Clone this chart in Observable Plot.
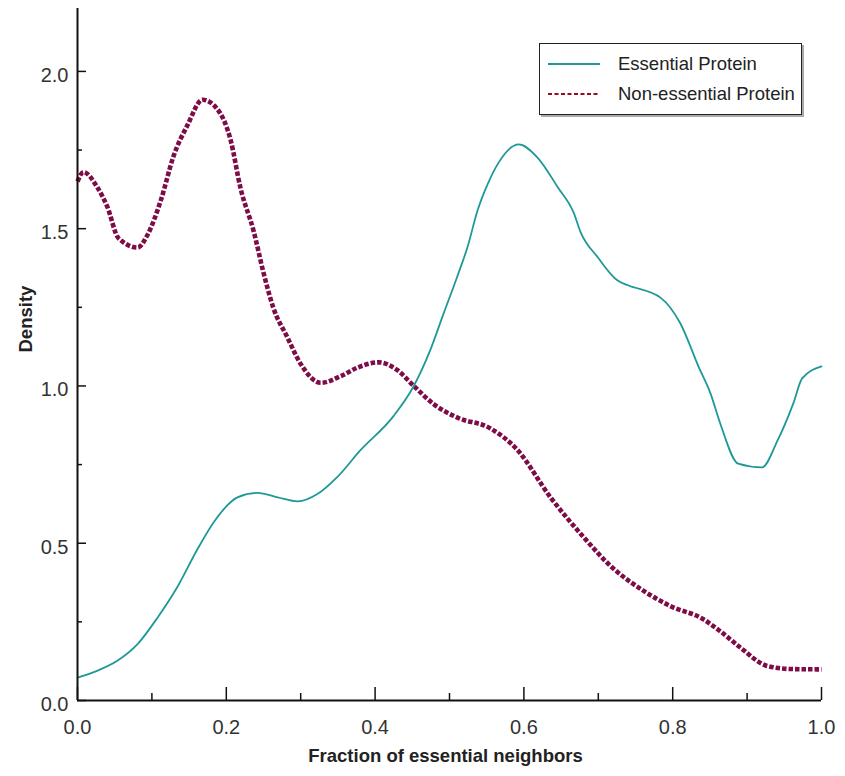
<!DOCTYPE html>
<html>
<head>
<meta charset="utf-8">
<script src="https://cdn.jsdelivr.net/npm/d3@7"></script>
<script src="https://cdn.jsdelivr.net/npm/@observablehq/plot@0.6"></script>
<style>
  html, body { margin: 0; padding: 0; background: #fff; }
  #wrap { position: relative; width: 845px; height: 776px; font-family: "Liberation Sans", Arial, sans-serif; }
  #legend { position: absolute; left: 539px; top: 43px; width: 261px; height: 70px; border: 1.5px solid #222; background: #fff; box-shadow: 2px 2px 0 #aaa; }
  #legend .row { position: absolute; left: 0; height: 20px; display: flex; align-items: center; font-size: 18.5px; color: #222; }
  #legend svg { margin-left: 8px; margin-right: 18px; }
</style>
</head>
<body>
<div id="wrap">
  <div id="chart"></div>
  <div id="legend"></div>
</div>
<script>
// Essential protein density (teal)
const essX = [0, 0.027, 0.054, 0.081, 0.108, 0.134, 0.161, 0.184, 0.215, 0.242, 0.269, 0.296, 0.323, 0.349, 0.38, 0.425, 0.452, 0.474, 0.492, 0.51, 0.524, 0.538, 0.551, 0.566, 0.593, 0.618, 0.646, 0.667, 0.676, 0.699, 0.726, 0.74, 0.784, 0.81, 0.835, 0.851, 0.864, 0.888, 0.92, 0.941, 0.962, 0.974, 1.0];
const essY = [0.073, 0.095, 0.127, 0.18, 0.265, 0.36, 0.48, 0.57, 0.646, 0.66, 0.646, 0.633, 0.657, 0.71, 0.795, 0.905, 1.0, 1.113, 1.23, 1.345, 1.44, 1.56, 1.64, 1.71, 1.768, 1.727, 1.63, 1.55, 1.49, 1.41, 1.335, 1.32, 1.28, 1.2, 1.06, 0.975, 0.88, 0.753, 0.741, 0.827, 0.944, 1.024, 1.062];

// Non-essential protein density (maroon, dotted)
const nonX = [0, 0.008, 0.027, 0.04, 0.055, 0.081, 0.094, 0.112, 0.129, 0.148, 0.168, 0.188, 0.206, 0.219, 0.237, 0.25, 0.263, 0.282, 0.3, 0.327, 0.353, 0.378, 0.405, 0.43, 0.452, 0.48, 0.51, 0.555, 0.59, 0.636, 0.68, 0.72, 0.76, 0.797, 0.84, 0.864, 0.89, 0.927, 0.96, 1.0];
const nonY = [1.65, 1.68, 1.63, 1.57, 1.47, 1.44, 1.48, 1.59, 1.73, 1.83, 1.91, 1.88, 1.78, 1.63, 1.49, 1.36, 1.25, 1.155, 1.07, 1.01, 1.03, 1.06, 1.075, 1.05, 1.0, 0.94, 0.9, 0.865, 0.8, 0.645, 0.52, 0.42, 0.35, 0.3, 0.26, 0.22, 0.17, 0.11, 0.1, 0.099];

const seriesNames = ["Essential Protein", "Non-essential Protein"];
const xMajorTicks = [0, 0.2, 0.4, 0.6, 0.8, 1.0];
const xMinorTicks = [0.1, 0.3, 0.5, 0.7, 0.9];
const yMajorTicks = [0, 0.5, 1.0, 1.5, 2.0];
const yMinorTicks = [0.25, 0.75, 1.25, 1.75];
const xLabel = "Fraction of essential neighbors";
const yLabel = "Density";

const teal = "#1f9898";
const maroon = "#7e0c46";

const ess = essX.map((x, i) => ({x, y: essY[i]}));
const non = nonX.map((x, i) => ({x, y: nonY[i]}));
const fmt = d3.format(".1f");

const chart = Plot.plot({
  width: 845,
  height: 776,
  marginLeft: 77,
  marginRight: 24,
  marginTop: 8,
  marginBottom: 76,
  x: {domain: [0, 1]},
  y: {domain: [0, 2.2]},
  style: {fontFamily: "'Liberation Sans', Arial, sans-serif", fontSize: "20px", color: "#222", background: "#fff"},
  marks: [
    Plot.line(non, {x: "x", y: "y", stroke: maroon, strokeWidth: 4.6, strokeDasharray: "4.5,2", strokeLinecap: "butt", curve: "monotone-x"}),
    Plot.line(ess, {x: "x", y: "y", stroke: teal, strokeWidth: 1.8, curve: "monotone-x"}),
    // axis ticks (inward)
    Plot.axisX(xMajorTicks, {tickSize: -13, strokeWidth: 1.5, stroke: "#111", text: null, label: null}),
    Plot.axisX(xMinorTicks, {tickSize: -7, strokeWidth: 1.5, stroke: "#111", text: null, label: null}),
    Plot.axisY(yMajorTicks, {tickSize: -9, strokeWidth: 1.5, stroke: "#111", text: null, label: null}),
    Plot.axisY(yMinorTicks, {tickSize: -5, strokeWidth: 1.5, stroke: "#111", text: null, label: null}),
    // tick labels
    Plot.axisX(xMajorTicks, {tickSize: 0, tickPadding: 19, tickFormat: fmt, label: null, fill: "#333"}),
    Plot.axisY(yMajorTicks, {tickSize: 0, tickPadding: 9, tickFormat: fmt, label: null, fill: "#333", dy: 4}),
    // axis lines
    Plot.ruleX([0], {stroke: "#111", strokeWidth: 2}),
    Plot.ruleY([0], {stroke: "#111", strokeWidth: 2}),
    // axis titles
    Plot.text([xLabel], {frameAnchor: "bottom", dy: 61, dx: -4, fontWeight: "bold", fontSize: 18.5, fill: "#222"}),
    Plot.text([yLabel], {frameAnchor: "left", dx: -51, dy: -2, rotate: -90, fontWeight: "bold", fontSize: 18.5, fill: "#222"})
  ]
});
document.getElementById("chart").appendChild(chart);

// Legend
const legend = document.getElementById("legend");
const rows = [
  {name: seriesNames[0], top: 10, svg: `<svg width="52" height="6"><line x1="0" y1="3" x2="52" y2="3" stroke="${teal}" stroke-width="2"/></svg>`},
  {name: seriesNames[1], top: 40, svg: `<svg width="52" height="6"><line x1="0" y1="3" x2="52" y2="3" stroke="#9a0a1a" stroke-width="2" stroke-dasharray="4,2.5"/></svg>`}
];
rows.forEach(r => {
  const d = document.createElement("div");
  d.className = "row";
  d.style.top = r.top + "px";
  d.innerHTML = r.svg + `<span>${r.name}</span>`;
  legend.appendChild(d);
});
</script>
</body>
</html>
